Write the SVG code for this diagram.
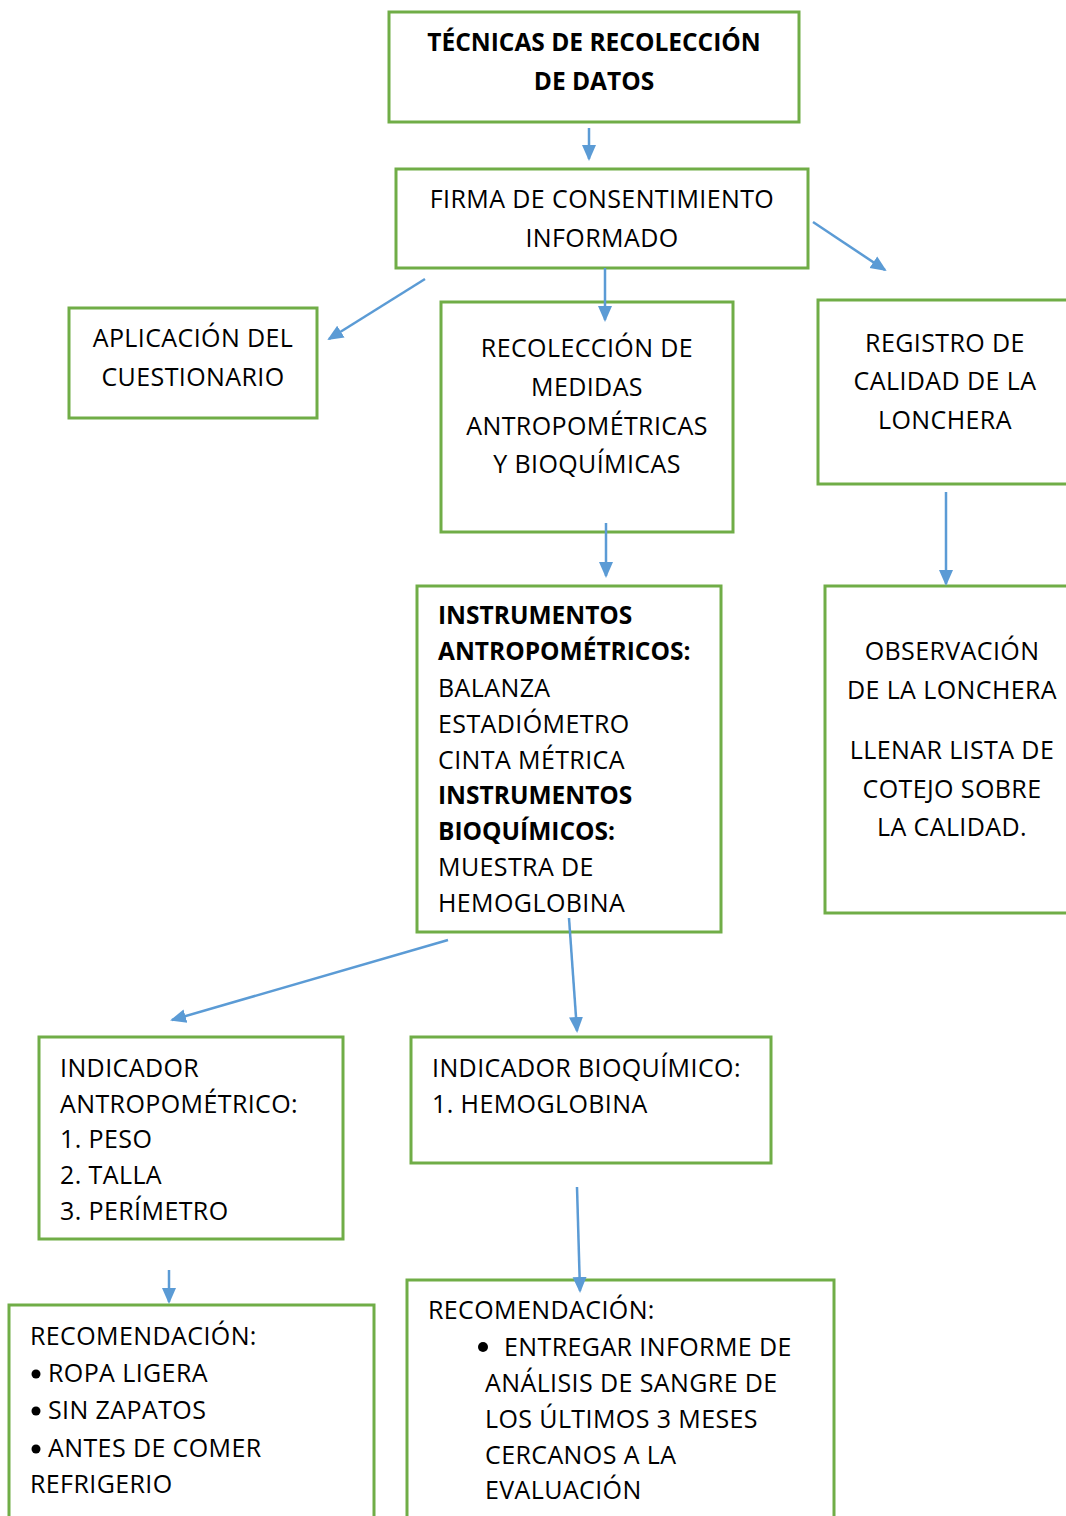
<svg xmlns="http://www.w3.org/2000/svg" width="1066" height="1516" viewBox="0 0 1066 1516">
<style>
.box{fill:#fff;stroke:#70AD47;stroke-width:3}
.t{font-family:"Open Sans","DejaVu Sans",sans-serif;font-size:25px;letter-spacing:0.4px;fill:#000}
.c{text-anchor:middle}
.b{font-weight:bold;font-size:24.5px;letter-spacing:0}
.con line{stroke:#5B9BD5;stroke-width:2.5;marker-end:url(#ah)}
</style>
<defs>
<marker id="ah" markerWidth="16" markerHeight="16" refX="14" refY="8" orient="auto" markerUnits="userSpaceOnUse" viewBox="0 0 16 16">
<path d="M0,1 L16,8 L0,15 Z" fill="#5B9BD5"/>
</marker>
</defs>
<rect width="1066" height="1516" fill="#fff"/>
<g id="n-tecnicas">
<rect class="box" x="389" y="12" width="410" height="110"/>
<text class="t c b" x="594" y="51">TÉCNICAS DE RECOLECCIÓN</text>
<text class="t c b" x="594" y="90">DE DATOS</text>
</g>
<g id="n-firma">
<rect class="box" x="396" y="169" width="412" height="99"/>
<text class="t c" x="602" y="208">FIRMA DE CONSENTIMIENTO</text>
<text class="t c" x="602" y="247">INFORMADO</text>
</g>
<g id="n-aplicacion">
<rect class="box" x="69" y="308" width="248" height="110"/>
<text class="t c" x="193" y="347">APLICACIÓN DEL</text>
<text class="t c" x="193" y="386">CUESTIONARIO</text>
</g>
<g id="n-recoleccion">
<rect class="box" x="441" y="302" width="292" height="230"/>
<text class="t c" x="587" y="357">RECOLECCIÓN DE</text>
<text class="t c" x="587" y="396">MEDIDAS</text>
<text class="t c" x="587" y="435">ANTROPOMÉTRICAS</text>
<text class="t c" x="587" y="473">Y BIOQUÍMICAS</text>
</g>
<g id="n-registro">
<rect class="box" x="818" y="300" width="262" height="184"/>
<text class="t c" x="945" y="352">REGISTRO DE</text>
<text class="t c" x="945" y="390">CALIDAD DE LA</text>
<text class="t c" x="945" y="429">LONCHERA</text>
</g>
<g id="n-instrumentos">
<rect class="box" x="417" y="586" width="304" height="346"/>
<text class="t b" x="438" y="624">INSTRUMENTOS</text>
<text class="t b" x="438" y="660">ANTROPOMÉTRICOS:</text>
<text class="t" x="438" y="697">BALANZA</text>
<text class="t" x="438" y="733">ESTADIÓMETRO</text>
<text class="t" x="438" y="769">CINTA MÉTRICA</text>
<text class="t b" x="438" y="804">INSTRUMENTOS</text>
<text class="t b" x="438" y="840">BIOQUÍMICOS:</text>
<text class="t" x="438" y="876">MUESTRA DE</text>
<text class="t" x="438" y="912">HEMOGLOBINA</text>
</g>
<g id="n-observacion">
<rect class="box" x="825" y="586" width="255" height="327"/>
<text class="t c" x="952" y="660">OBSERVACIÓN</text>
<text class="t c" x="952" y="699">DE LA LONCHERA</text>
<text class="t c" x="952" y="759">LLENAR LISTA DE</text>
<text class="t c" x="952" y="798">COTEJO SOBRE</text>
<text class="t c" x="952" y="836">LA CALIDAD.</text>
</g>
<g id="n-ind-antro">
<rect class="box" x="39" y="1037" width="304" height="202"/>
<text class="t" x="60" y="1077">INDICADOR</text>
<text class="t" x="60" y="1113">ANTROPOMÉTRICO:</text>
<text class="t" x="60" y="1148">1. PESO</text>
<text class="t" x="60" y="1184">2. TALLA</text>
<text class="t" x="60" y="1220">3. PERÍMETRO</text>
</g>
<g id="n-ind-bioq">
<rect class="box" x="411" y="1037" width="360" height="126"/>
<text class="t" x="432" y="1077">INDICADOR BIOQUÍMICO:</text>
<text class="t" x="432" y="1113">1. HEMOGLOBINA</text>
</g>
<g id="n-rec-left">
<rect class="box" x="9" y="1305" width="365" height="230"/>
<text class="t" x="30" y="1345">RECOMENDACIÓN:</text>
<circle cx="36" cy="1374" r="4.5" fill="#000"/>
<text class="t" x="48" y="1382">ROPA LIGERA</text>
<circle cx="36" cy="1411" r="4.5" fill="#000"/>
<text class="t" x="48" y="1419">SIN ZAPATOS</text>
<circle cx="36" cy="1449" r="4.5" fill="#000"/>
<text class="t" x="48" y="1457">ANTES DE COMER</text>
<text class="t" x="30" y="1493">REFRIGERIO</text>
</g>
<g id="n-rec-right">
<rect class="box" x="407" y="1280" width="427" height="255"/>
<text class="t" x="428" y="1319">RECOMENDACIÓN:</text>
<circle cx="483" cy="1347" r="5" fill="#000"/>
<text class="t" x="504" y="1356">ENTREGAR INFORME DE</text>
<text class="t" x="485" y="1392">ANÁLISIS DE SANGRE DE</text>
<text class="t" x="485" y="1428">LOS ÚLTIMOS 3 MESES</text>
<text class="t" x="485" y="1464">CERCANOS A LA</text>
<text class="t" x="485" y="1499">EVALUACIÓN</text>
</g>
<g class="con" id="connectors">
<line x1="589" y1="128" x2="589" y2="159"/>
<line x1="425" y1="279" x2="329" y2="339"/>
<line x1="813" y1="222" x2="885" y2="270"/>
<line x1="605" y1="268" x2="605" y2="320"/>
<line x1="606" y1="523" x2="606" y2="576"/>
<line x1="946" y1="492" x2="946" y2="584"/>
<line x1="448" y1="940" x2="172" y2="1020"/>
<line x1="569" y1="918" x2="577" y2="1031"/>
<line x1="169" y1="1270" x2="169" y2="1302"/>
<line x1="577" y1="1187" x2="580" y2="1291"/>
</g>
</svg>
